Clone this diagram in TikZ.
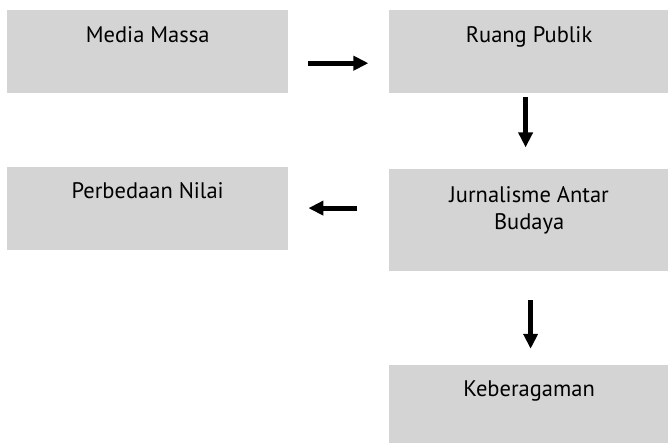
\documentclass[tikz,border=0pt]{standalone}
\usepackage{fontspec}
\setmainfont{PT Sans}
\usetikzlibrary{positioning,arrows.meta}
\definecolor{abu}{RGB}{212,212,212}
\tikzstyle{kotak} = [rectangle, minimum width=281pt, inner sep=0pt, align=center, fill=abu, font=\fontsize{22.5}{27}\selectfont]
\tikzstyle{panah} = [line width=5pt, -{Triangle[length=15pt,width=14pt]}]

\begin{document}
\begin{tikzpicture}[x=1pt, y=1pt]
        \useasboundingbox (0,0) rectangle (668,-443);

        \node (media) [kotak, anchor=north west, text height=32pt, text depth=51pt] at (7,-10) {Media Massa};
        \node (ruang) [kotak, right=100pt of media, text height=32pt, text depth=51pt] {Ruang Publik};
        \node (perbedaan) [kotak, below=73pt of media, text height=32pt, text depth=51pt] {Perbedaan Nilai};
        \node (jurnalisme) [kotak, below=75pt of ruang, text height=61pt, text depth=41pt] {Jurnalisme Antar\\Budaya};
        \node (keberagaman) [kotak, below=94pt of jurnalisme, text height=31pt, text depth=48pt] {Keberagaman};

        \draw [panah, shorten <=20pt, shorten >=20pt] ([yshift=-11.5pt]media.east) -- ([yshift=-11.5pt]ruang.west);
        \draw [panah, shorten <=4pt, shorten >=21pt] ([xshift=-3.5pt]ruang.south) -- ([xshift=-3.5pt]jurnalisme.north);
        \draw [panah, shorten <=31pt, shorten >=20pt] (jurnalisme.west |- perbedaan.east) -- (perbedaan.east);
        \draw [panah, shorten <=29pt, shorten >=16pt] ([xshift=1.5pt]jurnalisme.south) -- ([xshift=1.5pt]keberagaman.north);

\end{tikzpicture}
\end{document}
